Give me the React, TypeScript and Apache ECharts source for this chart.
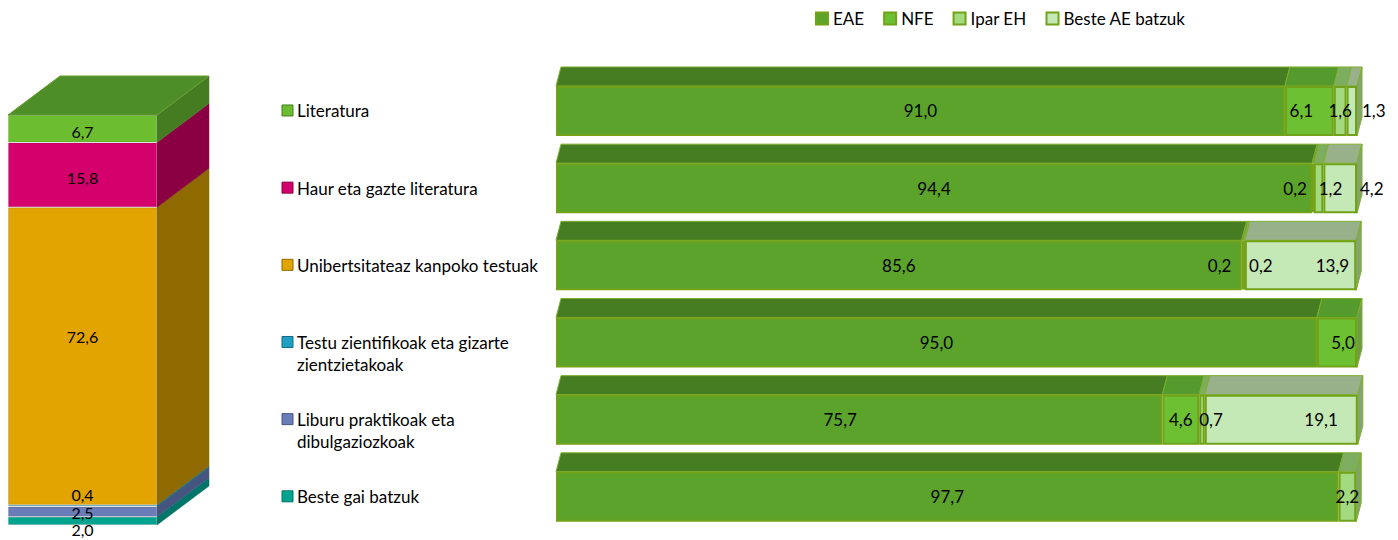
import React, { useEffect, useRef } from 'react';
import * as echarts from 'echarts';

// ---- data ----
const topics = [
  'Literatura',
  'Haur eta gazte literatura',
  'Unibertsitateaz kanpoko testuak',
  'Testu zientifikoak eta gizarte\nzientzietakoak',
  'Liburu praktikoak eta\ndibulgaziozkoak',
  'Beste gai batzuk',
];
const topicShares = [6.7, 15.8, 72.6, 0.4, 2.5, 2.0];

const regions = ['EAE', 'NFE', 'Ipar EH', 'Beste AE batzuk'];
const eaeValues = [91.0, 94.4, 85.6, 95.0, 75.7, 97.7];
const nfeValues = [6.1, 0.2, 0.2, 5.0, 4.6, null];
const iparValues = [1.6, 1.2, 0.2, null, 0.7, 2.2];
const besteValues = [1.3, 4.2, 13.9, null, 19.1, null];
const regionValues = [eaeValues, nfeValues, iparValues, besteValues];

// ---- styles ----
const FONT = 'Lato';
const TOPIC_FRONT = ['#6CBE30', '#D4006B', '#E1A400', '#1FA0C2', '#6A7DB9', '#00A38E'];
const TOPIC_SIDE = ['#457C21', '#8A0043', '#8F6A00', '#136A80', '#46557F', '#00756A'];
const TOPIC_TOP = '#4E8E28';
const TOPIC_LABEL_OFFSET = [[0, 3], [0, 3], [0, -20], [0, -11], [0, 1], [0, 9]];

const REGION_FRONT = ['#5CA32C', '#6DC032', '#A3DA80', '#C4E8B6'];
const REGION_TOP = ['#467D22', '#549A2C', '#7DAE60', '#98B18A'];
const REGION_SIDE = ['#3F701F', '#6C9B4C', '#7FA468', '#85A373'];
const REGION_BORDER = '#72A218';

const LEFT_DX = 52;
const LEFT_DY = -39;
const RIGHT_DX = 5;
const RIGHT_DY = -19;
const BAR_H = 50;

// label placement tweaks keyed "row-series"
const RIGHT_LABEL_TWEAKS: Record<string, any> = {
  '0-1': { offset: [-8, 0] },
  '0-3': { position: 'right', distance: 5 },
  '1-1': { position: 'left', distance: 5 },
  '1-2': { offset: [12, 0] },
  '1-3': { position: 'right', distance: 3 },
  '2-1': { position: 'left', distance: 10 },
  '2-2': { position: 'right', distance: 4 },
  '2-3': { position: 'insideRight', distance: 7 },
  '3-1': { offset: [6, 0] },
  '4-0': { offset: [-19, 0] },
  '4-2': { position: 'insideLeft', distance: 0 },
  '4-3': { position: 'insideRight', distance: 20 },
};

const fmt = (v: number) => v.toFixed(1).replace('.', ',');

function buildOption() {
  const labelText = { fontFamily: FONT, fontSize: 17, color: '#000' };

  // left stacked 3D column
  const leftSeries: any[] = [];
  for (let i = topics.length - 1; i >= 0; i--) {
    leftSeries.push({
      type: 'bar',
      name: topics[i].replace('\n', ' '),
      stack: 'topics',
      xAxisIndex: 0,
      yAxisIndex: 0,
      barWidth: '100%',
      data: [topicShares[i]],
      itemStyle: { color: TOPIC_FRONT[i], borderColor: 'rgba(0,0,0,0.12)', borderWidth: 1 },
      label: {
        show: true,
        position: 'inside',
        offset: TOPIC_LABEL_OFFSET[i],
        formatter: (p: any) => fmt(p.value),
        ...labelText,
        fontSize: 16,
        lineHeight: 16,
      },
      z: 2,
    });
  }
  const leftFaces: any[] = [];
  let acc = 0;
  for (let i = topics.length - 1; i >= 0; i--) {
    const start = acc;
    acc += topicShares[i];
    leftFaces.push([0, start, acc, i, i === 0 ? 1 : 0]);
  }
  const leftCustom = {
    type: 'custom',
    coordinateSystem: 'cartesian2d',
    xAxisIndex: 0,
    yAxisIndex: 0,
    silent: true,
    encode: { x: 0, y: [1, 2] },
    data: leftFaces,
    z: 1,
    renderItem: (params: any, api: any) => {
      const idx = api.value(3);
      const pS = api.coord([api.value(0), api.value(1)]);
      const pE = api.coord([api.value(0), api.value(2)]);
      const bw = api.size([1, 0])[0];
      const xl = pS[0] - bw / 2;
      const xr = pS[0] + bw / 2;
      const yBot = pS[1];
      const yTop = pE[1];
      const children: any[] = [
        {
          type: 'polygon',
          shape: { points: [[xr, yTop], [xr + LEFT_DX, yTop + LEFT_DY], [xr + LEFT_DX, yBot + LEFT_DY], [xr, yBot]] },
          style: { fill: TOPIC_SIDE[idx], stroke: TOPIC_SIDE[idx], lineWidth: 0.5 },
        },
      ];
      if (api.value(4) === 1) {
        children.push({
          type: 'polygon',
          shape: { points: [[xl, yTop], [xr, yTop], [xr + LEFT_DX, yTop + LEFT_DY], [xl + LEFT_DX, yTop + LEFT_DY]] },
          style: { fill: TOPIC_TOP, stroke: '#6A9F2E', lineWidth: 1 },
        });
      }
      return { type: 'group', children };
    },
  };

  // right stacked 3D bars
  const rightSeries = regions.map((name, s) => ({
    type: 'bar',
    name,
    stack: 'regions',
    xAxisIndex: 1,
    yAxisIndex: 1,
    barWidth: BAR_H,
    itemStyle: { color: REGION_FRONT[s], borderColor: REGION_BORDER, borderWidth: 2 },
    label: { show: true, position: 'inside', formatter: (p: any) => (p.value == null ? '' : fmt(p.value)), ...labelText },
    data: regionValues[s].map((v, row) => {
      const tweak = RIGHT_LABEL_TWEAKS[`${row}-${s}`];
      return tweak ? { value: v, label: tweak } : v;
    }),
    z: 2,
  }));
  const rightFaces: any[] = [];
  for (let row = 0; row < eaeValues.length; row++) {
    let start = 0;
    let lastS = -1;
    regionValues.forEach((vals, s) => {
      if (vals[row] != null && (vals[row] as number) > 0) lastS = s;
    });
    regionValues.forEach((vals, s) => {
      const v = vals[row];
      if (v == null || v <= 0) return;
      rightFaces.push([start, row, start + v, s, s === lastS ? 1 : 0]);
      start += v;
    });
  }
  const rightCustom = {
    type: 'custom',
    coordinateSystem: 'cartesian2d',
    xAxisIndex: 1,
    yAxisIndex: 1,
    silent: true,
    encode: { x: [0, 2], y: 1 },
    data: rightFaces,
    z: 1,
    renderItem: (params: any, api: any) => {
      const s = api.value(3);
      const p0 = api.coord([api.value(0), api.value(1)]);
      const p1 = api.coord([api.value(2), api.value(1)]);
      const yTop = p0[1] - BAR_H / 2;
      const yBot = p0[1] + BAR_H / 2;
      const children: any[] = [
        {
          type: 'polygon',
          shape: { points: [[p0[0], yTop], [p1[0], yTop], [p1[0] + RIGHT_DX, yTop + RIGHT_DY], [p0[0] + RIGHT_DX, yTop + RIGHT_DY]] },
          style: { fill: REGION_TOP[s], stroke: '#7FAE2E', lineWidth: 1 },
        },
      ];
      if (api.value(4) === 1) {
        children.push({
          type: 'polygon',
          shape: { points: [[p1[0], yTop], [p1[0] + RIGHT_DX, yTop + RIGHT_DY], [p1[0] + RIGHT_DX, yBot + RIGHT_DY], [p1[0], yBot]] },
          style: { fill: REGION_SIDE[s], stroke: '#7FAE2E', lineWidth: 1 },
        });
      }
      return { type: 'group', children };
    },
  };

  return {
    animation: false,
    backgroundColor: '#fff',
    textStyle: { fontFamily: FONT },
    legend: {
      data: regions,
      left: 815,
      top: 10,
      padding: 0,
      itemWidth: 12,
      itemHeight: 12,
      itemGap: 19,
      icon: 'rect',
      textStyle: { fontFamily: FONT, fontSize: 17, color: '#000' },
      selectedMode: false,
    },
    grid: [
      { left: 8, top: 115, width: 149, height: 410 },
      { left: 556, top: 72.4, width: 801, height: 463 },
    ],
    xAxis: [
      { type: 'category', gridIndex: 0, data: ['Gaiak'], show: false },
      { type: 'value', gridIndex: 1, min: 0, max: 100, show: false },
    ],
    yAxis: [
      { type: 'value', gridIndex: 0, min: 0, max: 100, show: false },
      { type: 'category', gridIndex: 1, data: topics.map((t) => t.replace('\n', ' ')), inverse: true, show: false },
    ],
    series: [leftCustom, ...leftSeries, rightCustom, ...rightSeries],
  };
}

export default function App() {
  const ref = useRef<HTMLDivElement>(null);
  useEffect(() => {
    document.body.style.margin = '0';
    if (!ref.current) return;
    const chart = echarts.init(ref.current, null, { renderer: 'svg' });
    chart.setOption(buildOption());
    const graphic: any[] = [];
    topics.forEach((t, i) => {
      const yc = chart.convertToPixel({ yAxisIndex: 1 } as any, i) as number;
      graphic.push({
        type: 'rect',
        x: 282,
        y: yc - 6,
        shape: { width: 11, height: 11 },
        style: { fill: TOPIC_FRONT[i], stroke: TOPIC_SIDE[i], lineWidth: 1 },
      });
      graphic.push({
        type: 'text',
        x: 297,
        y: yc - 11,
        style: { text: t, fontFamily: FONT, fontSize: 17, fill: '#000', verticalAlign: 'top', lineHeight: 22 },
      });
    });
    chart.setOption({ graphic });
    return () => chart.dispose();
  }, []);
  return <div ref={ref} style={{ width: 1398, height: 540 }} />;
}
